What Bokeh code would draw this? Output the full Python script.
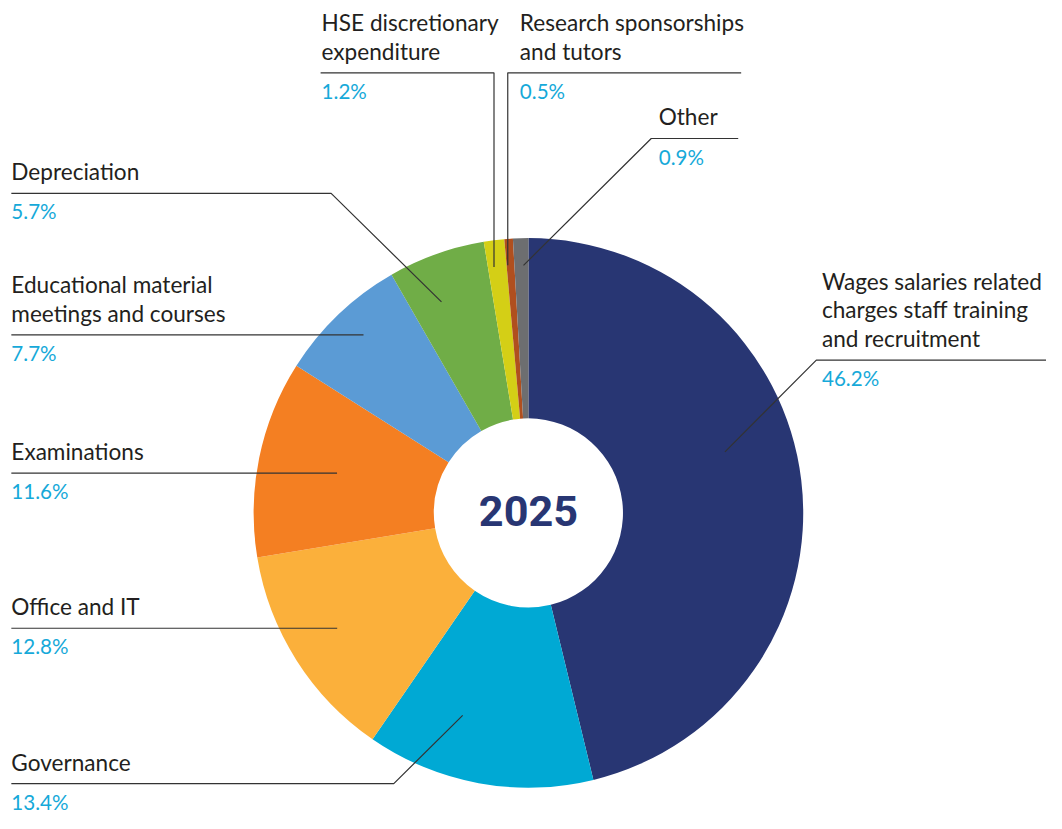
import math
from bokeh.plotting import figure
from bokeh.models import Range1d, ColumnDataSource
from bokeh.core.properties import value
from bokeh.embed import file_html
from bokeh.resources import INLINE

# ---------------- data ----------------
categories = [
    "Wages salaries related charges staff training and recruitment",
    "Governance",
    "Office and IT",
    "Examinations",
    "Educational material meetings and courses",
    "Depreciation",
    "HSE discretionary expenditure",
    "Research sponsorships and tutors",
    "Other",
]
label_lines = [
    ["Wages salaries related", "charges staff training", "and recruitment"],
    ["Governance"],
    ["Office and IT"],
    ["Examinations"],
    ["Educational material", "meetings and courses"],
    ["Depreciation"],
    ["HSE discretionary", "expenditure"],
    ["Research sponsorships", "and tutors"],
    ["Other"],
]
shares = [46.2, 13.4, 12.8, 11.6, 7.7, 5.7, 1.2, 0.5, 0.9]
year_label = "2025"

# ---------------- styles ----------------
colors = ["#283673", "#00a9d4", "#fbb03b", "#f47f22", "#5b9bd5",
          "#70ad47", "#d4cf16", "#b04f1e", "#6d6e70"]
TITLE_COLOR = "#231f20"
PCT_COLOR = "#16a9d9"
LINE_COLOR = "#333333"
TITLE_FONT = "Lato"

# ---------------- layout (reference pixel space 1062 x 829) ----------------
REF_W, REF_H = 1062.0, 829.0
W, H = 1046, 813
SCALE = (W / REF_W + H / REF_H) / 2.0
TITLE_PX, PCT_PX, YEAR_PX = 23.0, 21.0, 44.0
TITLE_SIZE = f"{TITLE_PX * SCALE:.1f}px"
PCT_SIZE = f"{PCT_PX * SCALE:.1f}px"
YEAR_SIZE = f"{YEAR_PX * SCALE:.1f}px"
# renderer places the alphabetic baseline slightly low: compensate
LATO_SHIFT, ROBOTO_SHIFT = 0.41, 0.38

CX, CY = 536.0, 522.5
R_OUT, R_IN = 279.0, 96.0

# text x, far end of underline, elbow, anchor position inside slice (fraction of slice, radius)
label_layout = [
    dict(tx=834.0, ul_far=1062.0, elbow=(828.3, 366.7), frac=0.437, r=209.0),
    dict(tx=11.0, ul_far=11.0, elbow=(399.3, 798.5), frac=0.655, r=217.0),
    dict(tx=11.0, ul_far=11.0, elbow=None, frac=0.526, r=227.0),
    dict(tx=11.0, ul_far=11.0, elbow=None, frac=0.507, r=198.5),
    dict(tx=11.0, ul_far=11.0, elbow=None, frac=0.538, r=247.0),
    dict(tx=11.0, ul_far=11.0, elbow=(335.7, 196.7), frac=0.369, r=232.6),
    dict(tx=326.0, ul_far=325.0, elbow=("v", 73.7), frac=0.33, r=253.2),
    dict(tx=527.3, ul_far=752.0, elbow=("v", 73.7), frac=0.16, r=253.4),
    dict(tx=668.3, ul_far=749.0, elbow=(660.7, 140.7), frac=0.65, r=252.5),
]
TITLE_GAP = 12.5     # underline -> last title baseline
LINE_STEP = 29.2     # title line spacing
PCT_GAP = 27.0       # underline -> percent baseline

p = figure(width=W, height=H, output_backend="svg", toolbar_location=None,
           x_range=Range1d(0, REF_W), y_range=Range1d(-REF_H, 0),
           x_axis_type=None, y_axis_type=None, min_border=0,
           background_fill_color="white", border_fill_color="white")
p.outline_line_color = None
p.grid.visible = False

# slices: clockwise from 12 o'clock
total = sum(shares)
starts, ends, c = [], [], 0.0
for v in shares:
    c0 = c / total
    c += v
    c1 = c / total
    starts.append(math.pi / 2 - 2 * math.pi * c1)
    ends.append(math.pi / 2 - 2 * math.pi * c0)

src = ColumnDataSource(dict(start=starts, end=ends, color=colors, cat=categories, share=shares))
p.annular_wedge(x=CX, y=-CY, inner_radius=R_IN, outer_radius=R_OUT,
                start_angle="start", end_angle="end", direction="anticlock",
                fill_color="color", line_color=None, source=src)

# labels and leader lines
xs, ys = [], []
tt_x, tt_y, tt_text = [], [], []
pc_x, pc_y, pc_text = [], [], []
c = 0.0
for i, v in enumerate(shares):
    lay = label_layout[i]
    a0 = c / total * 360.0
    c += v
    a1 = c / total * 360.0
    phi = math.radians(a0 + lay["frac"] * (a1 - a0))
    ax = CX + lay["r"] * math.sin(phi)
    ay = CY - lay["r"] * math.cos(phi)
    el = lay["elbow"]
    if el is None:
        pts = [(lay["ul_far"], ay), (ax, ay)]
        ul_y = ay
    elif el[0] == "v":
        ul_y = el[1]
        pts = [(lay["ul_far"], ul_y), (ax, ul_y), (ax, ay)]
    else:
        ul_y = el[1]
        pts = [(lay["ul_far"], ul_y), (el[0], ul_y), (ax, ay)]
    xs.append([q[0] for q in pts])
    ys.append([-q[1] for q in pts])
    lines = label_lines[i]
    n = len(lines)
    for k, t in enumerate(lines):
        base = ul_y - TITLE_GAP - LINE_STEP * (n - 1 - k)
        tt_x.append(lay["tx"])
        tt_y.append(-(base - LATO_SHIFT * TITLE_PX))
        tt_text.append(t)
    pc_x.append(lay["tx"])
    pc_y.append(-(ul_y + PCT_GAP - LATO_SHIFT * PCT_PX))
    pc_text.append(f"{v:.1f}%")

p.multi_line(xs=xs, ys=ys, line_color=LINE_COLOR, line_width=1.2)

p.text(x=tt_x, y=tt_y, text=tt_text, text_font=value(TITLE_FONT),
       text_font_size=TITLE_SIZE, text_color=TITLE_COLOR,
       text_align="left", text_baseline="alphabetic")
p.text(x=pc_x, y=pc_y, text=pc_text, text_font=value(TITLE_FONT),
       text_font_size=PCT_SIZE, text_color=PCT_COLOR,
       text_align="left", text_baseline="alphabetic")

year_base = CY + 15.2
p.text(x=[CX], y=[-(year_base - ROBOTO_SHIFT * YEAR_PX)], text=[year_label],
       text_font=value("Roboto"), text_font_style="bold",
       text_font_size=YEAR_SIZE, text_color="#283673",
       text_align="center", text_baseline="alphabetic")

open("out.html", "w").write(file_html(p, INLINE))
